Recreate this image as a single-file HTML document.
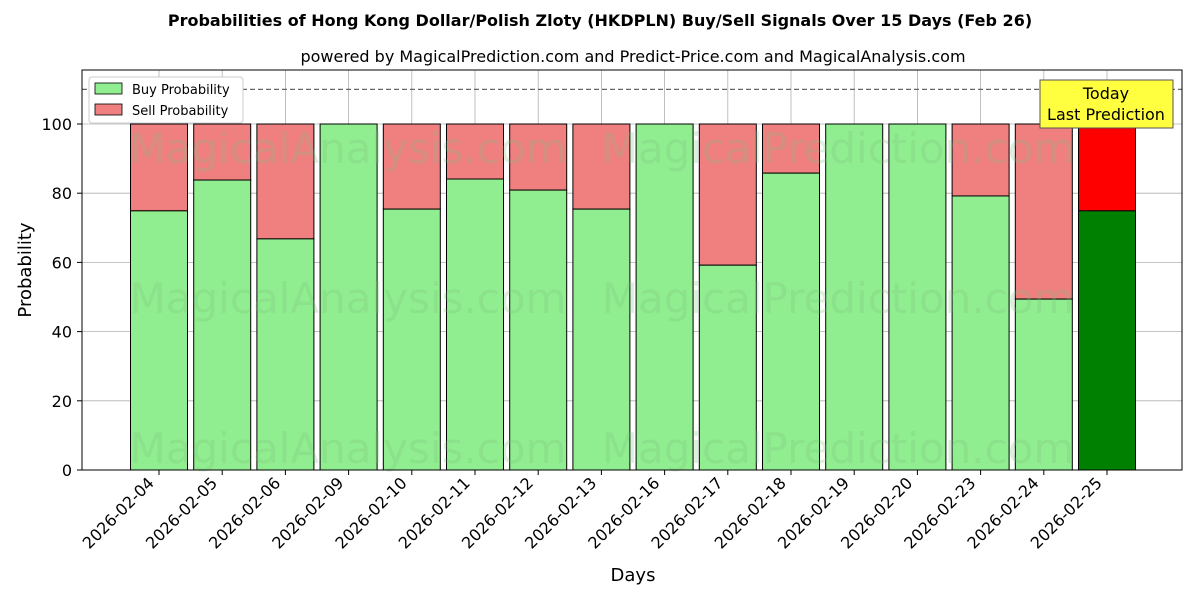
<!DOCTYPE html>
<html><head><meta charset="utf-8"><style>
body{margin:0;background:#fff;font-family:"Liberation Sans","DejaVu Sans",sans-serif}
svg text{font-family:"DejaVu Sans","Liberation Sans",sans-serif}
</style></head><body>
<svg id="chart" width="1200" height="600" xmlns="http://www.w3.org/2000/svg">
<rect width="1200" height="600" fill="#fff"/>
<text x="600" y="26" text-anchor="middle" font-size="16" font-weight="bold">Probabilities of Hong Kong Dollar/Polish Zloty (HKDPLN) Buy/Sell Signals Over 15 Days (Feb 26)</text>
<text x="633" y="62" text-anchor="middle" font-size="16">powered by MagicalPrediction.com and Predict-Price.com and MagicalAnalysis.com</text>
<g id="grid"></g>
<g id="bars"></g>
<g id="wm" font-size="42" fill="#7fbf7f" opacity="0.25">
<text x="348" y="163" text-anchor="middle">MagicalAnalysis.com</text>
<text x="838" y="163" text-anchor="middle">MagicalPrediction.com</text>
<text x="348" y="313" text-anchor="middle">MagicalAnalysis.com</text>
<text x="838" y="313" text-anchor="middle">MagicalPrediction.com</text>
<text x="348" y="463" text-anchor="middle">MagicalAnalysis.com</text>
<text x="838" y="463" text-anchor="middle">MagicalPrediction.com</text>
</g>
<line x1="82" x2="1182" y1="89.4" y2="89.4" stroke="#666" stroke-dasharray="5,3" stroke-width="1.2"/>
<rect x="82" y="70" width="1100" height="400" fill="none" stroke="#000" stroke-width="1"/>
<g id="axes"></g>
<text transform="translate(31,270) rotate(-90)" text-anchor="middle" font-size="18">Probability</text>
<text x="633" y="581" text-anchor="middle" font-size="18">Days</text>
<g>
<rect x="89" y="77" width="154" height="46" fill="#fff" stroke="#ccc" rx="3"/>
<rect x="95" y="83" width="27" height="11" fill="lightgreen" stroke="#000" stroke-width="0.8"/>
<text x="132" y="94" font-size="13">Buy Probability</text>
<rect x="95" y="104" width="27" height="11" fill="lightcoral" stroke="#000" stroke-width="0.8"/>
<text x="132" y="115" font-size="13">Sell Probability</text>
</g>
<g>
<rect x="1040" y="80" width="133" height="48" fill="#ffff40" stroke="#555"/>
<text x="1106" y="99" text-anchor="middle" font-size="16">Today</text>
<text x="1106" y="120" text-anchor="middle" font-size="16">Last Prediction</text>
</g>
</svg>
<script>
const categories=["2026-02-04","2026-02-05","2026-02-06","2026-02-09","2026-02-10","2026-02-11","2026-02-12","2026-02-13","2026-02-16","2026-02-17","2026-02-18","2026-02-19","2026-02-20","2026-02-23","2026-02-24","2026-02-25"];
const buyValues=[74.9,83.8,66.8,100,75.4,84.1,80.9,75.4,100,59.2,85.8,100,100,79.2,49.4,74.9];
const yTicks=[0,20,40,60,80,100];
const NS="http://www.w3.org/2000/svg";
const y=v=>470-v*3.46;
const x=i=>159+i*63.2;
const bw=57;
function mk(tag,attrs,parent){const e=document.createElementNS(NS,tag);for(const k in attrs)e.setAttribute(k,attrs[k]);parent.appendChild(e);return e;}
const grid=document.getElementById('grid'),bars=document.getElementById('bars'),axes=document.getElementById('axes');
yTicks.forEach(t=>{
  const g=mk('line',{x1:82,x2:1182,y1:y(t),y2:y(t),stroke:'#b0b0b0','stroke-width':0.8},grid);
  
  
  mk('line',{x1:77,x2:82,y1:y(t),y2:y(t),stroke:'#000'},axes);
  const tx=mk('text',{x:72,y:y(t)+6,'text-anchor':'end','font-size':16},axes);
  tx.textContent=t;
  
  
});
categories.forEach((c,i)=>{
  const gl=mk('line',{x1:x(i),x2:x(i),y1:70,y2:470,stroke:'#b0b0b0','stroke-width':0.8},grid);
  
  
  const last=i===categories.length-1;
  const b=buyValues[i];
  const s=mk('rect',{x:x(i)-bw/2,y:y(100),width:bw,height:y(b)-y(100),fill:last?'#ff0000':'lightcoral',stroke:'#000','stroke-width':1},bars);
  
  
  const r=mk('rect',{x:x(i)-bw/2,y:y(b),width:bw,height:470-y(b),fill:last?'#008000':'lightgreen',stroke:'#000','stroke-width':1},bars);
  
  
  mk('line',{x1:x(i),x2:x(i),y1:470,y2:475,stroke:'#000'},axes);
  const t=mk('text',{transform:`translate(${x(i)-4},${484}) rotate(-45)`,'text-anchor':'end','font-size':16},axes);
  t.textContent=c;
  
  
});
</script>
</body></html>
